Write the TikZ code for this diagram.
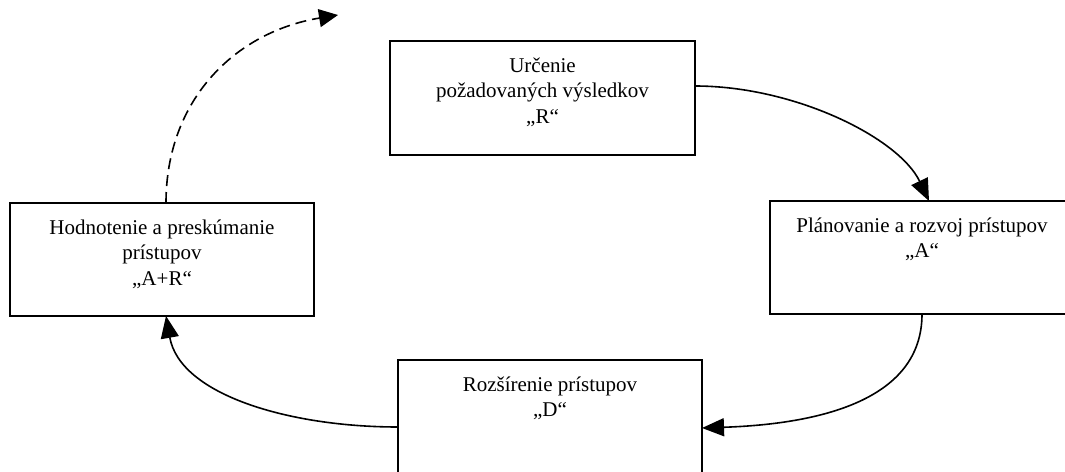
\documentclass[tikz,border=0pt]{standalone}
\usepackage{fontspec}
\setmainfont{Liberation Serif}
\usetikzlibrary{arrows.meta}
\begin{document}
\begin{tikzpicture}[x=1pt,y=-1pt,
  box/.style={draw, line width=2pt, minimum width=304pt, minimum height=113pt, inner sep=0pt, outer sep=0pt},
  txt/.style={anchor=north, align=center, inner sep=0pt, font=\fontsize{21}{25.5}\selectfont},
  conn/.style={line width=1.6pt, -{Triangle[length=22pt,width=18pt]}},
  dconn/.style={line width=1.6pt, dash pattern=on 11pt off 6pt, -{Triangle[length=19pt,width=18pt]}}]
\useasboundingbox (0,0) rectangle (1065,471);
\clip (0,0) rectangle (1065,471);
% boxes
\node[box, minimum width=305pt, minimum height=114pt] (r) at (542.5,98) {};
\node[txt] (rt) at ([yshift=-13pt]r.north) {\strut Určenie\\požadovaných výsledkov\\„R“};
\node[box] (a) at (922,257.5) {};
\node[txt] (at) at ([yshift=-13pt]a.north) {\strut Plánovanie a rozvoj prístupov\\„A“};
\node[box] (b) at (550,416.5) {};
\node[txt] (bt) at ([yshift=-13pt]b.north) {\strut Rozšírenie prístupov\\„D“};
\node[box] (l) at (162,259.5) {};
\node[txt] (lt) at ([yshift=-13pt]l.north) {\strut Hodnotenie a preskúmanie\\prístupov\\„A+R“};
% connectors
\draw[conn] ([yshift=12pt]r.east) .. controls +(100,0) and +(-30,-63) .. ([xshift=7pt]a.north);
\draw[conn] (a.south) .. controls +(0,86) and +(118,-4) .. ([yshift=-11.5pt]b.east);
\draw[conn] ([yshift=-10.5pt]b.west) .. controls +(-108,0) and +(14,79) .. ([xshift=4pt]l.south);
\coordinate (dend) at (338,15);
\draw[dconn] ([xshift=4pt]l.north) .. controls +(0,-103) and +(-103,17) .. (dend);
\end{tikzpicture}
\end{document}
